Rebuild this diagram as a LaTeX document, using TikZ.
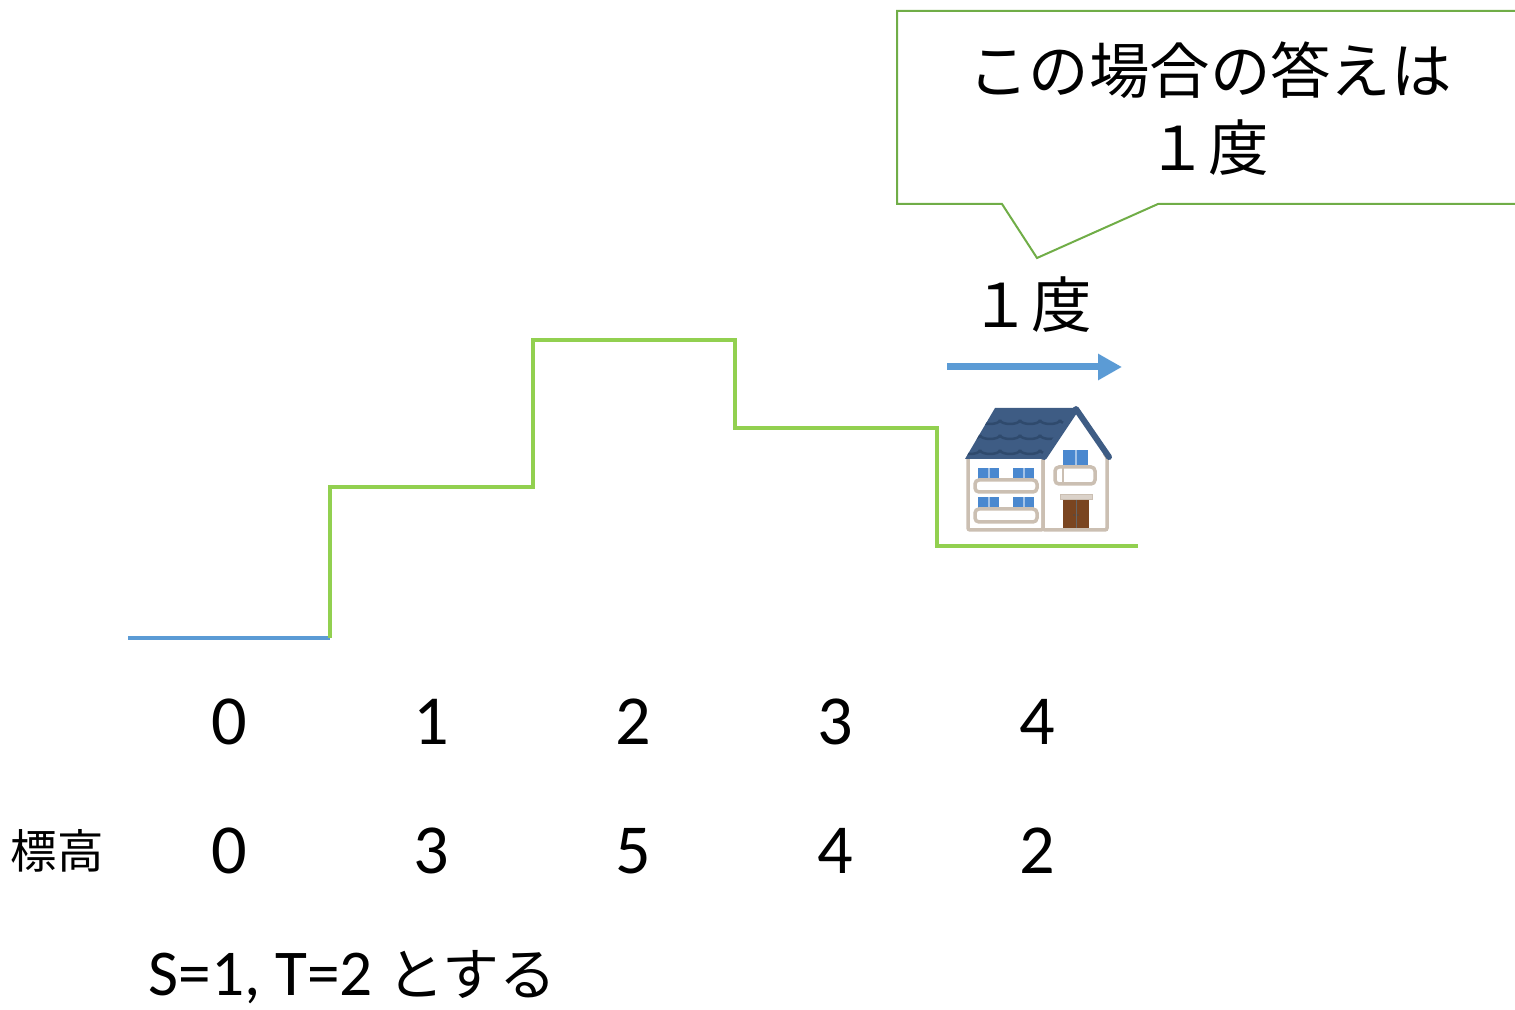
\documentclass[tikz,border=0pt]{standalone}
\usepackage{fontspec}
\setmainfont{Carlito}
\newfontfamily\jp{Noto Sans CJK JP}
\usetikzlibrary{arrows.meta}

\definecolor{gruen}{HTML}{92D050}
\definecolor{rahmen}{HTML}{70AD47}
\definecolor{blau}{HTML}{5B9BD5}
\definecolor{dach}{HTML}{3E5C84}
\definecolor{dachwelle}{HTML}{2F4A6D}
\definecolor{wand}{HTML}{CBBFB2}
\definecolor{fenster}{HTML}{4A88CF}
\definecolor{tuer}{HTML}{7A4520}

\begin{document}
\begin{tikzpicture}[
	zahl/.style={font=\fontsize{20}{24}\selectfont, inner sep=0pt},
	jpgross/.style={font=\jp\fontsize{17.2}{22}\selectfont, inner sep=0pt},
	stufe/.style={draw=gruen, line width=0.04cm},
	pfeil/.style={draw=blau, line width=0.07cm, -{Triangle[length=0.24cm, width=0.25cm]}},
	sprech/.style={draw=rahmen, line width=0.02cm},
	mauer/.style={draw=wand, fill=white, line width=0.035cm, rounded corners=0.02cm},
	glas/.style={fill=fenster}
]
	\useasboundingbox (0, 0) rectangle (15.15, 10.1);

	% Start (blau) und Stufen (gruen)
	\coordinate (s0) at (1.28, 3.72);
	\coordinate (s1) at (3.30, 3.72);
	\coordinate (s2) at (3.30, 5.23);
	\coordinate (s3) at (5.33, 5.23);
	\coordinate (s4) at (5.33, 6.70);
	\coordinate (s5) at (7.35, 6.70);
	\coordinate (s6) at (7.35, 5.82);
	\coordinate (s7) at (9.37, 5.82);
	\coordinate (s8) at (9.37, 4.64);
	\coordinate (s9) at (11.38, 4.64);
	\draw[draw=blau, line width=0.04cm] (s0) -- (s1);
	\draw[stufe] (s1) -- (s2) -- (s3) -- (s4) -- (s5) -- (s6) -- (s7) -- (s8)
	-- (s9);

	% Nummern und Hoehen
	\foreach \i/\h in {0/0, 1/3, 2/5, 3/4, 4/2} {
		\pgfmathsetmacro{\xpos}{2.29 + 2.02*\i}
		\node[zahl] (nr\i) at (\xpos, 2.88) {\i};
		\node[zahl] (hoehe\i) at (\xpos, 1.59) {\h};
	}
	\node[font=\jp\fontsize{13.2}{16}\selectfont, inner sep=0pt] (hoehe) at
	(0.57, 1.59) {標高};
	\node[font=\fontsize{18.6}{22}\selectfont, inner sep=0pt, anchor=west]
	(bedingung) at (1.48, 0.33) {S=1, T=2\hspace{0.22em}{\jp\fontsize{16.2}{20}\selectfont
	とする}};

	% Pfeil mit Beschriftung
	\coordinate (pA) at (9.47, 6.43);
	\coordinate (pB) at (11.22, 6.43);
	\draw[pfeil] (pA) -- (pB);
	\node[jpgross] (grad) at (10.31, 7.05) {１度};

	% Sprechblase
	\coordinate (b0) at (15.15, 9.99);
	\coordinate (b1) at (8.97, 9.99);
	\coordinate (b2) at (8.97, 8.06);
	\coordinate (b3) at (10.02, 8.06);
	\coordinate (b4) at (10.37, 7.52);
	\coordinate (b5) at (11.58, 8.06);
	\coordinate (b6) at (15.15, 8.06);
	\draw[sprech] (b0) -- (b1) -- (b2) -- (b3) -- (b4) -- (b5) -- (b6);
	\node[jpgross] (antwort1) at (12.10, 9.40) {この場合の答えは};
	\node[jpgross] (antwort2) at (12.08, 8.62) {１度};

	% Haus: Waende
	\filldraw[mauer] (9.68, 4.80) rectangle (10.43, 5.54);
	\filldraw[mauer] (10.43, 4.80) rectangle (11.07, 5.54);
	\fill[white] (10.45, 5.52) -- (10.75, 6.00) -- (11.05, 5.52) -- cycle;
	% Dach
	\fill[dach] (9.65, 5.51) -- (9.95, 6.02) -- (10.76, 6.02) -- (10.44, 5.51)
	-- cycle;
	\begin{scope}
		\clip (9.65, 5.51) -- (9.95, 6.02) -- (10.76, 6.02) -- (10.44, 5.51)
		-- cycle;
		\foreach \y in {5.60, 5.75, 5.90}
			\foreach \x in {9.60, 9.80, ..., 10.80}
				\draw[dachwelle, line width=0.025cm] (\x, \y) arc[start
				angle=180, end angle=360, x radius=0.1, y radius=0.04];
	\end{scope}
	\draw[dach, line width=0.06cm, line cap=round, line join=round] (10.44,
	5.53) -- (10.76, 6.01) -- (11.09, 5.53);

	% Fenster links
	\foreach \x in {9.78, 10.13} {
		\foreach \y in {4.99, 5.28} {
			\fill[glas] (\x, \y) rectangle (\x + 0.21, \y + 0.14);
			\fill[white, opacity=0.5] (\x + 0.095, \y) rectangle (\x + 0.115,
			\y + 0.14);
		}
	}
	\filldraw[mauer, rounded corners=0.04cm] (9.75, 5.18) rectangle (10.37,
	5.30);
	\filldraw[mauer, rounded corners=0.04cm] (9.75, 4.88) rectangle (10.37,
	5.01);
	% Fenster rechts
	\fill[glas] (10.63, 5.41) rectangle (10.88, 5.60);
	\fill[white, opacity=0.5] (10.745, 5.41) rectangle (10.765, 5.60);
	\filldraw[mauer, rounded corners=0.04cm] (10.55, 5.26) rectangle (10.95,
	5.43);
	\draw[wand, line width=0.02cm] (10.63, 5.26) -- (10.63, 5.43);
	% Tuer
	\filldraw[draw=wand, fill=wand!70, line width=0.01cm] (10.60, 5.10)
	rectangle (10.92, 5.15);
	\fill[tuer] (10.63, 4.82) rectangle (10.89, 5.10);
	\draw[black!60, line width=0.01cm] (10.76, 4.82) -- (10.76, 5.10);
	\fill[black!70] (10.74, 4.95) circle (0.008);
	\fill[black!70] (10.78, 4.95) circle (0.008);
\end{tikzpicture}
\end{document}
